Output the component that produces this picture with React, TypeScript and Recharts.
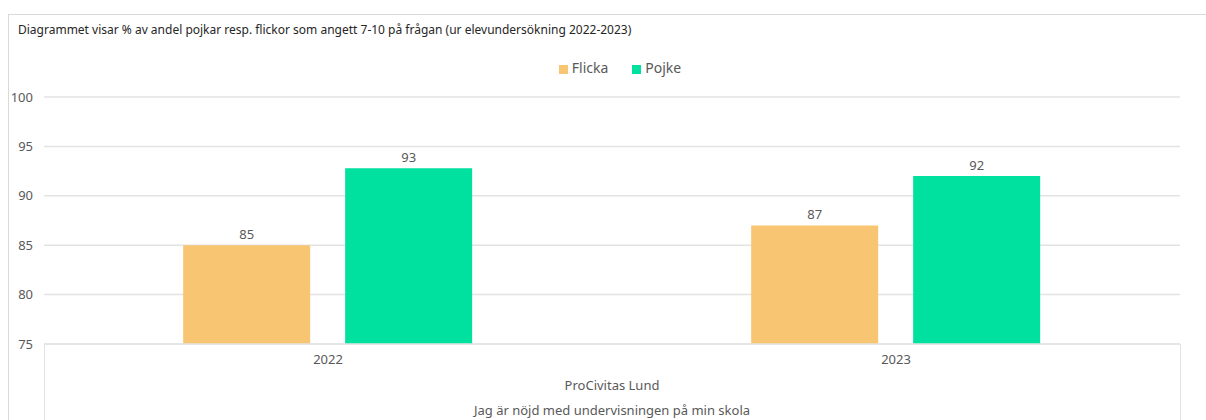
import { Bar, BarChart, CartesianGrid, LabelList, Legend, XAxis, YAxis } from "recharts";

const years = ["2022", "2023"];
const flicka = [85, 87];
const pojke = [92.8, 92];
const yTicks = [75, 80, 85, 90, 95, 100];

const data = years.map((y, i) => ({ year: y, Flicka: flicka[i], Pojke: pojke[i] }));

const FONT = "'Noto Sans', Lato, sans-serif";
const TEXT = "#595959";
const LINE = "#e3e3e3";

export default function App() {
  return (
    <div
      style={{
        position: "absolute",
        left: 0,
        top: 0,
        width: 1206,
        height: 420,
        background: "#fff",
        fontFamily: FONT,
        overflow: "hidden",
      }}
    >
      {/* outer frame: top + left edge */}
      <div style={{ position: "absolute", left: 8, top: 14, right: 0, height: 1, background: "#d9d9d9" }} />
      <div style={{ position: "absolute", left: 8, top: 14, width: 1, bottom: 0, background: "#d9d9d9" }} />
      <div
        style={{
          position: "absolute",
          left: 18,
          top: 21,
          fontSize: 12,
          color: "#262626",
        }}
      >
        Diagrammet visar % av andel pojkar resp. flickor som angett 7-10 på frågan (ur elevundersökning 2022-2023)
      </div>

      <BarChart
        width={1206}
        height={420}
        data={data}
        margin={{ top: 78, right: 26, left: 0, bottom: 46 }}
        barCategoryGap="24.5%"
        barGap={35}
        style={{ position: "absolute", left: 0, top: 0 }}
      >
        <CartesianGrid vertical={false} stroke={LINE} strokeWidth={1.5} />
        <XAxis
          dataKey="year"
          height={30}
          axisLine={{ stroke: LINE, strokeWidth: 1.5 }}
          tickLine={false}
          tick={{ fill: TEXT, fontSize: 13, fontFamily: FONT }}
          tickMargin={5}
        />
        <YAxis
          width={44}
          domain={[75, 100]}
          ticks={yTicks}
          axisLine={false}
          tickLine={false}
          tickMargin={5}
          tick={{ fill: TEXT, fontSize: 13, fontFamily: FONT }}
        />
        <Legend
          verticalAlign="top"
          align="center"
          iconType="square"
          iconSize={9}
          wrapperStyle={{ top: 58, left: 29, width: 1206, fontSize: 14, fontFamily: FONT }}
          formatter={(v) => <span style={{ color: TEXT, marginRight: 14 }}>{v}</span>}
        />
        <Bar dataKey="Flicka" fill="#f8c672" isAnimationActive={false}>
          <LabelList
            dataKey="Flicka"
            position="top"
            offset={6}
            formatter={(v: number) => Math.round(v)}
            style={{ fill: TEXT, fontSize: 13, fontFamily: FONT }}
          />
        </Bar>
        <Bar dataKey="Pojke" fill="#00e1a0" isAnimationActive={false}>
          <LabelList
            dataKey="Pojke"
            position="top"
            offset={6}
            formatter={(v: number) => Math.round(v)}
            style={{ fill: TEXT, fontSize: 13, fontFamily: FONT }}
          />
        </Bar>
      </BarChart>

      {/* multi-level category box */}
      <div style={{ position: "absolute", left: 44, top: 344, width: 1, bottom: 0, background: LINE }} />
      <div style={{ position: "absolute", left: 1180, top: 344, width: 1, bottom: 0, background: LINE }} />
      <div
        style={{
          position: "absolute",
          left: 44,
          width: 1136,
          top: 376,
          textAlign: "center",
          fontSize: 13,
          color: TEXT,
        }}
      >
        ProCivitas Lund
      </div>
      <div
        style={{
          position: "absolute",
          left: 44,
          width: 1136,
          top: 401,
          textAlign: "center",
          fontSize: 13,
          color: TEXT,
        }}
      >
        Jag är nöjd med undervisningen på min skola
      </div>
    </div>
  );
}
